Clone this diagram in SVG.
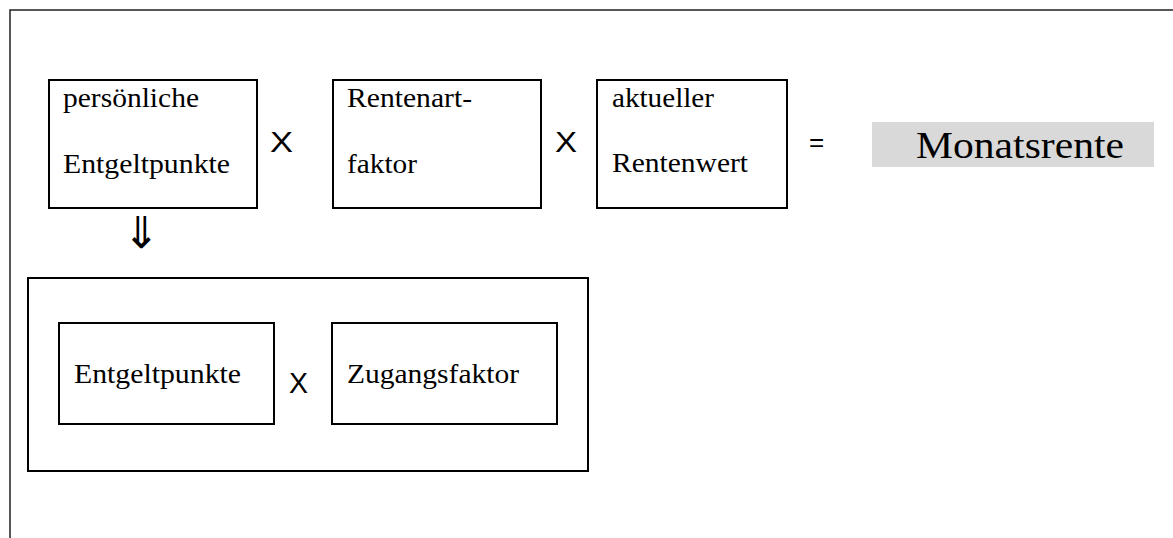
<svg xmlns="http://www.w3.org/2000/svg" width="1173" height="538" viewBox="0 0 1173 538">
<style>
.box{fill:#fff;stroke:#000;stroke-width:2}
.t{font-family:"Liberation Serif",serif;font-size:27px;fill:#000}
.big{font-family:"Liberation Serif",serif;font-size:38px;fill:#000}
.op{font-family:"Liberation Sans",sans-serif;font-size:30px;fill:#000}
.frame{fill:none;stroke:#222;stroke-width:1.5}
</style>
<rect width="1173" height="538" fill="#fff"/>
<path class="frame" d="M10,538 V10 H1173"/>
<g id="n1">
<rect class="box" x="49" y="80" width="208" height="128"/>
<text class="t" x="63" y="107" textLength="136" lengthAdjust="spacingAndGlyphs">persönliche</text>
<text class="t" x="63" y="173" textLength="167" lengthAdjust="spacingAndGlyphs">Entgeltpunkte</text>
</g>
<g id="op1"><text class="op" x="270" y="152" textLength="23" lengthAdjust="spacingAndGlyphs">X</text></g>
<g id="n2">
<rect class="box" x="333" y="80" width="208" height="128"/>
<text class="t" x="347" y="107" textLength="125" lengthAdjust="spacingAndGlyphs">Rentenart-</text>
<text class="t" x="347" y="173" textLength="70" lengthAdjust="spacingAndGlyphs">faktor</text>
</g>
<g id="op2"><text class="op" x="555" y="152" textLength="22" lengthAdjust="spacingAndGlyphs">X</text></g>
<g id="n3">
<rect class="box" x="597" y="80" width="190" height="128"/>
<text class="t" x="612" y="107" textLength="102" lengthAdjust="spacingAndGlyphs">aktueller</text>
<text class="t" x="612" y="172" textLength="136" lengthAdjust="spacingAndGlyphs">Rentenwert</text>
</g>
<g id="eq"><text x="809" y="151" font-family="Liberation Sans,sans-serif" font-size="26" fill="#000">=</text></g>
<g id="result">
<rect x="872" y="122" width="282" height="45" fill="#d9d9d9"/>
<text class="big" x="916" y="158" textLength="208" lengthAdjust="spacingAndGlyphs">Monatsrente</text>
</g>
<g id="connectors">
<text x="123" y="248" font-family="DejaVu Sans,sans-serif" font-size="44" fill="#000">⇓</text>
</g>
<g id="n4">
<rect class="box" x="28" y="278" width="560" height="193"/>
</g>
<g id="n5">
<rect class="box" x="59" y="323" width="215" height="101"/>
<text class="t" x="74" y="383" textLength="167" lengthAdjust="spacingAndGlyphs">Entgeltpunkte</text>
</g>
<g id="op3"><text class="op" x="289" y="393" textLength="19" lengthAdjust="spacingAndGlyphs">X</text></g>
<g id="n6">
<rect class="box" x="332" y="323" width="225" height="101"/>
<text class="t" x="347" y="383" textLength="172" lengthAdjust="spacingAndGlyphs">Zugangsfaktor</text>
</g>
</svg>
